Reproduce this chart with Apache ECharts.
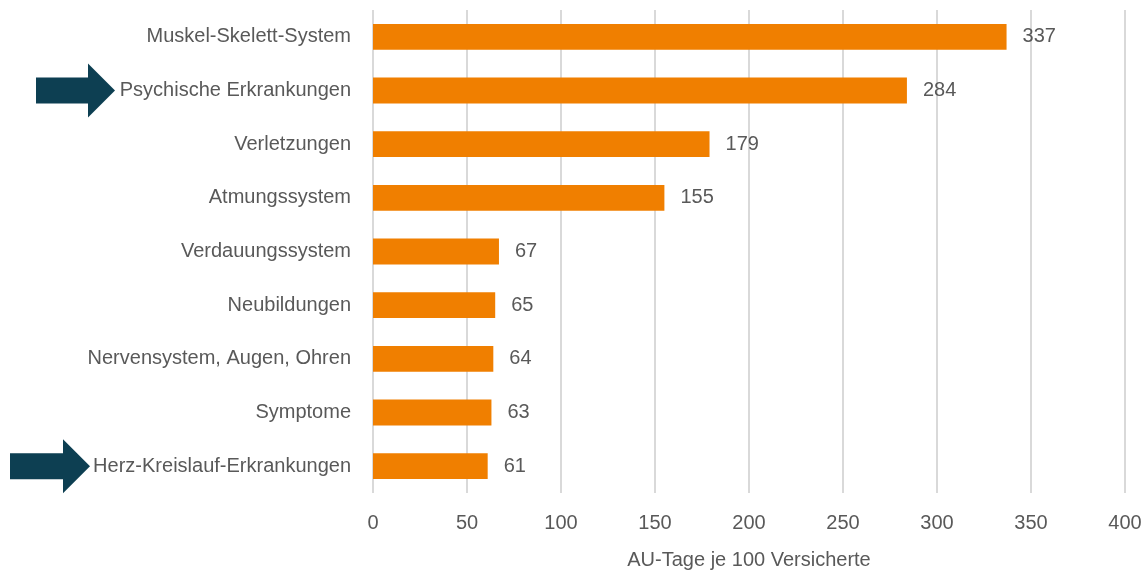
<!DOCTYPE html>
<html>
<head>
<meta charset="utf-8">
<script src="https://cdn.jsdelivr.net/npm/echarts@6/dist/echarts.min.js"></script>
<style>
  html, body { margin: 0; padding: 0; background: #fff; }
  #chart { width: 1147px; height: 571px; }
</style>
</head>
<body>
<div id="chart"></div>
<script>
// Kategorien von oben nach unten
const categories = [
  'Muskel-Skelett-System',
  'Psychische Erkrankungen',
  'Verletzungen',
  'Atmungssystem',
  'Verdauungssystem',
  'Neubildungen',
  'Nervensystem, Augen, Ohren',
  'Symptome',
  'Herz-Kreislauf-Erkrankungen'
]
// AU-Tage je 100 Versicherte
const values = [337, 284, 179, 155, 67, 65, 64, 63, 61]
const xTicks = [0, 50, 100, 150, 200, 250, 300, 350, 400]
// markierte Kategorien (Pfeil)
const marked = ['Psychische Erkrankungen', 'Herz-Kreislauf-Erkrankungen']

const font = "'Liberation Sans Narrow', 'Arial Narrow', 'Liberation Sans', Arial, sans-serif"
const textColor = '#595959'

const myChart = echarts.init(document.getElementById('chart'))

myChart.setOption({
  animation: false,
  textStyle: { fontFamily: font },
  grid: { left: 373, right: 22, top: 10, bottom: 78, outerBoundsMode: 'none' },
  xAxis: {
    type: 'value',
    min: xTicks[0],
    max: xTicks[xTicks.length - 1],
    interval: 50,
    name: 'AU-Tage je 100 Versicherte',
    nameLocation: 'middle',
    nameGap: 57,
    nameTextStyle: { color: textColor, fontSize: 20, fontFamily: font },
    axisLine: { show: false },
    axisTick: { show: false },
    axisLabel: { color: textColor, fontSize: 20, margin: 20, fontFamily: font },
    splitLine: { show: true, lineStyle: { color: '#d9d9d9', width: 2 } }
  },
  yAxis: {
    type: 'category',
    inverse: true,
    data: categories,
    axisLine: { show: false },
    axisTick: { show: false },
    axisLabel: { color: textColor, fontSize: 20, margin: 22, padding: [4, 0, 0, 0], fontFamily: font }
  },
  series: [
    {
      type: 'bar',
      data: values,
      barWidth: '48%',
      itemStyle: { color: '#F07F00' },
      label: {
        show: true,
        position: 'right',
        distance: 16,
        padding: [4, 0, 0, 0],
        color: textColor,
        fontSize: 20,
        fontFamily: font
      }
    }
  ]
})

// Pfeile links neben den markierten Kategorien
function drawArrows() {
  const graphics = marked.map(name => {
    const y = myChart.convertToPixel({ yAxisIndex: 0 }, name)
    const tip = name === 'Herz-Kreislauf-Erkrankungen' ? 90 : 115
    const start = name === 'Herz-Kreislauf-Erkrankungen' ? 10 : 36
    const neck = tip - 27
    return {
      type: 'polygon',
      shape: {
        points: [
          [start, y - 13], [neck, y - 13], [neck, y - 27], [tip, y],
          [neck, y + 27], [neck, y + 13], [start, y + 13]
        ]
      },
      style: { fill: '#0D3F52' }
    }
  })
  myChart.setOption({ graphic: graphics })
}
drawArrows()
</script>
</body>
</html>
